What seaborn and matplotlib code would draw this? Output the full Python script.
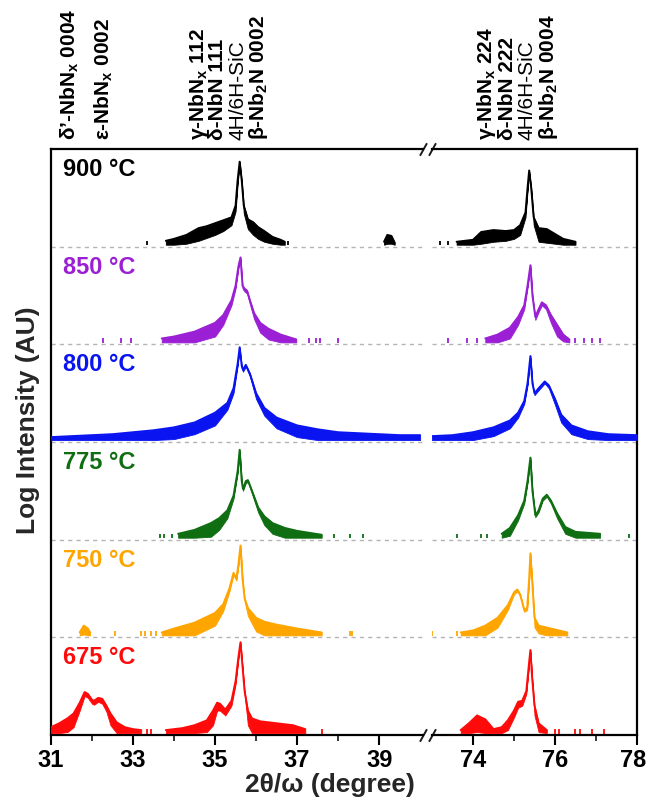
import matplotlib
matplotlib.use("Agg")
import matplotlib.pyplot as plt
import matplotlib.transforms as mtransforms
import seaborn as sns
import numpy as np

# ---------------- data (band-normalised log intensity, 0..1 per band) -------------
TEMPS = ["900 °C", "850 °C", "800 °C", "775 °C", "750 °C", "675 °C"]
COLORS = ["#000000", "#9b1fd4", "#0a14f0", "#0f6e12", "#ffa500", "#ff0a0a"]

# each entry: (2theta, upper envelope, lower envelope)
T900_LEFT = [[(33.8, .06, .02), (34.0, .08, .02), (34.3, .12, .03), (34.6, .19, .06), (34.8, .21, .09),
              (35.0, .24, .12), (35.2, .27, .16), (35.4, .30, .22), (35.5, .42, .36), (35.55, .68, .64),
              (35.6, .87, .85), (35.65, .68, .64), (35.7, .42, .34), (35.8, .28, .18), (35.93, .25, .12),
              (36.05, .20, .08), (36.2, .16, .05), (36.4, .10, .03), (36.6, .07, .02), (36.7, .05, .02)],
             [(39.12, .05, .02), (39.2, .12, .03), (39.3, .11, .03), (39.38, .04, .02)]]
T900_RIGHT = [[(73.6, .05, .02), (74.0, .07, .02), (74.2, .15, .03), (74.5, .17, .05), (74.8, .16, .06),
               (75.0, .17, .08), (75.15, .22, .12), (75.28, .35, .3), (75.33, .6, .57), (75.37, .78, .76),
               (75.42, .6, .57), (75.48, .3, .22), (75.6, .19, .05), (75.8, .18, .04), (76.0, .13, .03),
               (76.2, .08, .02), (76.5, .05, .02)]]
T900_TICKS_L = [33.35, 36.78]
T900_TICKS_R = [73.2, 73.4]

T850_LEFT = [[(33.7, .06, .02), (34.0, .08, .02), (34.5, .13, .02), (35.0, .22, .08), (35.2, .30, .2),
              (35.4, .45, .4), (35.5, .6, .57), (35.57, .8, .78), (35.62, .89, .87), (35.67, .6, .57),
              (35.72, .57, .54), (35.78, .55, .52), (35.85, .45, .41), (35.95, .32, .26), (36.1, .22, .12),
              (36.3, .16, .05), (36.6, .10, .02), (36.98, .05, .02)]]
T850_RIGHT = [[(74.3, .06, .02), (74.6, .10, .02), (74.9, .17, .06), (75.1, .28, .2), (75.25, .4, .36),
               (75.33, .6, .58), (75.4, .81, .79), (75.45, .5, .47), (75.52, .28, .25), (75.6, .36, .33),
               (75.68, .43, .4), (75.78, .4, .36), (75.9, .3, .22), (76.05, .2, .08), (76.2, .1, .03),
               (76.35, .05, .02)]]
T850_TICKS_L = [32.28, 32.7, 32.95, 37.3, 37.45, 37.55, 38.0]
T850_TICKS_R = [73.4, 73.85, 74.1, 76.5, 76.7, 76.9, 77.1]

T800_LEFT = [[(31.0, .05, .02), (31.5, .06, .02), (32.0, .07, .02), (32.5, .08, .02), (33.0, .10, .02),
              (33.5, .12, .02), (34.0, .15, .03), (34.5, .20, .08), (35.0, .30, .17), (35.3, .40, .33),
              (35.45, .55, .5), (35.55, .8, .78), (35.6, .97, .95), (35.65, .78, .76), (35.68, .74, .72),
              (35.75, .79, .77), (35.85, .70, .67), (36.0, .5, .44), (36.2, .35, .27), (36.5, .25, .14),
              (37.0, .17, .05), (37.5, .13, .02), (38.0, .10, .02), (38.5, .09, .02), (39.0, .08, .02),
              (39.5, .07, .02), (40.0, .07, .02)]]
T800_RIGHT = [[(73.0, .06, .02), (73.5, .07, .02), (74.0, .10, .02), (74.5, .15, .06), (74.9, .22, .14),
               (75.1, .30, .25), (75.25, .42, .39), (75.33, .6, .58), (75.4, .88, .86), (75.45, .6, .58),
               (75.5, .5, .48), (75.6, .55, .53), (75.75, .62, .6), (75.85, .58, .55), (76.0, .44, .38),
               (76.15, .28, .2), (76.4, .17, .08), (76.8, .11, .03), (77.3, .08, .02), (78.0, .07, .02)]]
T800_TICKS_L = []
T800_TICKS_R = []

T775_LEFT = [[(34.1, .06, .02), (34.5, .10, .02), (34.9, .17, .03), (35.1, .22, .1), (35.3, .30, .22),
              (35.45, .45, .42), (35.55, .7, .68), (35.6, .92, .9), (35.65, .6, .58), (35.68, .52, .5),
              (35.75, .6, .58), (35.8, .61, .59), (35.9, .5, .47), (36.05, .33, .28), (36.2, .24, .15),
              (36.4, .17, .06), (36.7, .12, .02), (37.0, .09, .02), (37.3, .07, .02), (37.6, .05, .02)]]
T775_RIGHT = [[(74.7, .06, .02), (74.9, .12, .04), (75.1, .25, .2), (75.25, .4, .37), (75.33, .6, .58),
               (75.4, .84, .82), (75.45, .5, .48), (75.52, .25, .23), (75.6, .3, .28), (75.7, .42, .4),
               (75.8, .46, .44), (75.9, .4, .37), (76.05, .27, .22), (76.25, .13, .06), (76.5, .08, .02),
               (76.8, .07, .02), (77.1, .06, .02)]]
T775_TICKS_L = [33.65, 33.75, 33.95, 37.9, 38.3, 38.6]
T775_TICKS_R = [73.6, 74.2, 74.35, 77.8]

T750_LEFT = [[(31.7, .05, .02), (31.8, .12, .03), (31.9, .09, .02), (31.95, .05, .02)],
             [(33.7, .05, .02), (34.0, .09, .02), (34.5, .15, .02), (35.0, .25, .12), (35.2, .34, .27),
              (35.35, .5, .47), (35.45, .66, .64), (35.52, .6, .58), (35.57, .75, .73), (35.62, .94, .92),
              (35.67, .6, .58), (35.72, .4, .37), (35.8, .3, .22), (36.0, .2, .06), (36.2, .16, .02),
              (36.5, .13, .02), (37.0, .09, .02), (37.3, .07, .02), (37.6, .05, .02)]]
T750_RIGHT = [[(73.7, .05, .02), (74.0, .07, .02), (74.3, .12, .02), (74.6, .2, .1), (74.85, .33, .28),
               (75.0, .46, .44), (75.08, .49, .47), (75.15, .44, .42), (75.25, .28, .26), (75.32, .3, .28),
               (75.37, .6, .58), (75.4, .86, .84), (75.44, .6, .58), (75.5, .2, .1), (75.6, .12, .04),
               (75.8, .1, .02), (76.0, .08, .02), (76.3, .05, .02)]]
T750_TICKS_L = [32.55, 33.2, 33.3, 33.45, 33.55, 38.3, 38.35]
T750_TICKS_R = [73.0, 73.6]

T675_LEFT = [[(31.0, .08, .02), (31.2, .12, .02), (31.4, .17, .03), (31.55, .22, .08), (31.7, .33, .25),
              (31.82, .44, .4), (31.9, .42, .38), (32.0, .36, .32), (32.05, .35, .31), (32.15, .38, .34),
              (32.25, .37, .32), (32.35, .3, .24), (32.45, .22, .1), (32.6, .13, .02), (32.8, .08, .02),
              (33.0, .06, .02), (33.2, .05, .02)],
             [(33.8, .05, .02), (34.2, .07, .02), (34.5, .1, .02), (34.8, .15, .03), (34.95, .25, .1),
              (35.05, .33, .25), (35.12, .32, .25), (35.25, .26, .2), (35.4, .35, .3), (35.5, .55, .52),
              (35.57, .8, .78), (35.62, .95, .93), (35.67, .7, .68), (35.72, .45, .42), (35.8, .25, .1),
              (35.9, .17, .02), (36.1, .14, .02), (36.5, .12, .02), (36.9, .1, .02), (37.2, .06, .02)]]
T675_RIGHT = [[(73.7, .05, .02), (73.9, .12, .02), (74.1, .2, .03), (74.3, .16, .02), (74.5, .06, .02),
               (74.7, .08, .02), (74.85, .15, .05), (75.0, .25, .18), (75.1, .34, .28), (75.2, .35, .3),
               (75.3, .45, .42), (75.37, .75, .73), (75.4, .87, .85), (75.44, .6, .58), (75.5, .3, .2),
               (75.6, .12, .03), (75.8, .05, .02)]]
T675_TICKS_L = [33.35, 33.45, 37.6]
T675_TICKS_R = [76.0, 76.1, 76.5, 76.6, 76.9, 77.2]

LEFT_DATA = [T900_LEFT, T850_LEFT, T800_LEFT, T775_LEFT, T750_LEFT, T675_LEFT]
RIGHT_DATA = [T900_RIGHT, T850_RIGHT, T800_RIGHT, T775_RIGHT, T750_RIGHT, T675_RIGHT]
LEFT_TICKS = [T900_TICKS_L, T850_TICKS_L, T800_TICKS_L, T775_TICKS_L, T750_TICKS_L, T675_TICKS_L]
RIGHT_TICKS = [T900_TICKS_R, T850_TICKS_R, T800_TICKS_R, T775_TICKS_R, T750_TICKS_R, T675_TICKS_R]

LEFT_LABELS = [(31.45, r"δ’-NbN$_{\mathbf{x}}$ 0004", "bold"),
               (32.3, r"ε-NbN$_{\mathbf{x}}$ 0002", "bold"),
               (34.59, r"γ-NbN$_{\mathbf{x}}$ 112", "bold"),
               (35.07, "δ-NbN 111", "bold"),
               (35.56, "4H/6H-SiC", "normal"),
               (36.05, r"β-Nb$_{\mathbf{2}}$N 0002", "bold")]
RIGHT_LABELS = [(74.34, r"γ-NbN$_{\mathbf{x}}$ 224", "bold"),
                (74.83, "δ-NbN 222", "bold"),
                (75.32, "4H/6H-SiC", "normal"),
                (75.85, r"β-Nb$_{\mathbf{2}}$N 0004", "bold")]

LEFT_MAJOR = [31, 33, 35, 37, 39]
LEFT_MINOR = [32, 34, 36, 38]
RIGHT_MAJOR = [74, 76, 78]
RIGHT_MINOR = [75, 77]

# ---------------- style ----------------
sns.set_theme(style="white")
plt.rcParams["font.family"] = ["Liberation Sans", "DejaVu Sans"]
plt.rcParams["mathtext.fontset"] = "custom"
plt.rcParams["mathtext.rm"] = "Liberation Sans"
plt.rcParams["mathtext.bf"] = "Liberation Sans:bold"
plt.rcParams["mathtext.it"] = "Liberation Sans:italic"

W, H = 648, 797
fig = plt.figure(figsize=(W / 100, H / 100), dpi=100)
top, bot = 149, 735
axL = fig.add_axes([51 / W, 1 - bot / H, (423 - 51) / W, (bot - top) / H])
axR = fig.add_axes([432 / W, 1 - bot / H, (637 - 432) / W, (bot - top) / H])
axL.set_xlim(31, 40.07)
axR.set_xlim(73.0, 78.0)
for ax in (axL, axR):
    ax.set_ylim(0, 6)
    ax.set_yticks([])
    ax.set_facecolor("white")
    for s in ax.spines.values():
        s.set_linewidth(1.6)
        s.set_color("black")
    for k in range(1, 6):
        ax.axhline(k, color="#b4b4b4", lw=1.0, ls=(0, (3, 3)), zorder=1)
    ax.tick_params(axis="x", which="major", direction="out", length=7, width=1.5,
                   labelsize=17, pad=3, colors="black", bottom=True)
    ax.tick_params(axis="x", which="minor", direction="out", length=4, width=1.3, bottom=True)
axL.spines["right"].set_visible(False)
axR.spines["left"].set_visible(False)
axL.set_xticks(LEFT_MAJOR)
axL.set_xticks(LEFT_MINOR, minor=True)
axR.set_xticks(RIGHT_MAJOR)
axR.set_xticks(RIGHT_MINOR, minor=True)
for ax in (axL, axR):
    for lab in ax.get_xticklabels():
        lab.set_fontweight("bold")
# nudge the last label so it stays inside the canvas
last = axR.get_xticklabels()[-1]
last.set_transform(last.get_transform() + mtransforms.ScaledTranslation(-4 / 100, 0, fig.dpi_scale_trans))


def draw(ax, segments, ticks, off, color):
    for seg in segments:
        x = np.array([p[0] for p in seg])
        hi = np.array([p[1] for p in seg]) + off
        lo = np.array([p[2] for p in seg]) + off
        ax.fill_between(x, lo, hi, color=color, lw=0.6, zorder=3)
        sns.lineplot(x=x, y=hi, ax=ax, color=color, lw=1.4, sort=False,
                     estimator=None, legend=False, zorder=4)
    if ticks:
        ax.vlines(ticks, off + 0.015, off + 0.06, color=color, lw=1.3, zorder=3)


for i, (temp, col) in enumerate(zip(TEMPS, COLORS)):
    off = 5 - i
    draw(axL, LEFT_DATA[i], LEFT_TICKS[i], off, col)
    draw(axR, RIGHT_DATA[i], RIGHT_TICKS[i], off, col)
    axL.text(31.3, off + 0.79, temp, color=col, fontsize=17, fontweight="bold",
             ha="left", va="center", zorder=5)

for ax in (axL, axR):
    ax.set_xlabel("")
    ax.set_ylabel("")
    ax.set_ylim(0, 6)

# axis break marks
kw = dict(marker=[(-1, -1.8), (1, 1.8)], markersize=9, linestyle="none",
          color="k", mec="k", mew=1.4, clip_on=False)
axL.plot([1, 1], [0, 1], transform=axL.transAxes, **kw)
axR.plot([0, 0], [0, 1], transform=axR.transAxes, **kw)

# phase annotations
yb = 1 + 9 / (bot - top)
for x, t, w in LEFT_LABELS:
    axL.text(x, yb, t, transform=axL.get_xaxis_transform(), rotation=90,
             ha="center", va="bottom", fontsize=15, fontweight=w, color="black")
for x, t, w in RIGHT_LABELS:
    axR.text(x, yb, t, transform=axR.get_xaxis_transform(), rotation=90,
             ha="center", va="bottom", fontsize=15, fontweight=w, color="black")

fig.text(330 / W, 1 - 785 / H, "2θ/ω (degree)", ha="center", va="center",
         fontsize=19, fontweight="bold")
fig.text(28 / W, 1 - 420 / H, "Log Intensity (AU)", ha="center", va="center",
         rotation=90, fontsize=19, fontweight="bold")

fig.savefig("out.png", dpi=100)
